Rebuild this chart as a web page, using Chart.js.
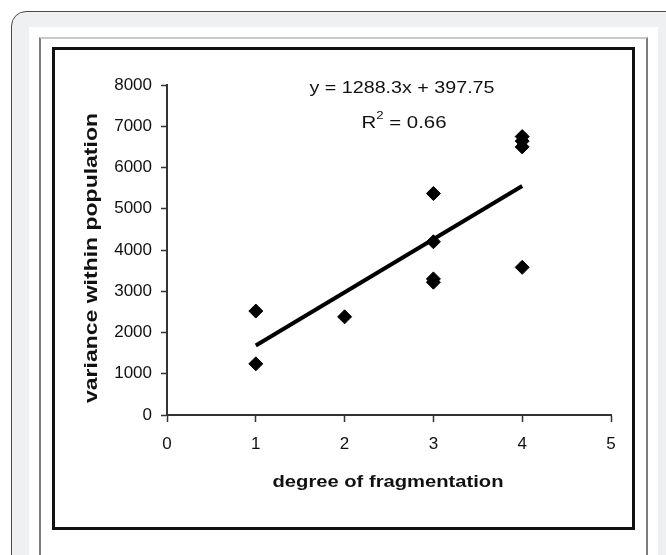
<!DOCTYPE html>
<html>
<head>
<meta charset="utf-8">
<script src="https://cdn.jsdelivr.net/npm/chart.js@4.4.1/dist/chart.umd.min.js"></script>
<style>
  html, body { margin: 0; padding: 0; background: #fff; }
  body { position: relative; width: 666px; height: 555px; overflow: hidden; }
  .outer { position: absolute; left: 11px; top: 11px; width: 720px; height: 620px; background: #eff0f2; border: 1px solid #4a4a4a; border-radius: 15px; }
  .panel { position: absolute; left: 29px; top: 27px; width: 629px; height: 600px; background: #fff; }
  .frame { position: absolute; left: 39px; top: 37px; width: 609px; height: 600px; box-sizing: border-box; border: 2px solid #7c7c7c; border-top-color: #c9c9c9; }
  .box { position: absolute; left: 52px; top: 47px; width: 583px; height: 483px; box-sizing: border-box; border: 3px solid #111; background: #fff; }
  canvas { position: absolute; left: 0; top: 0; filter: blur(0.35px); }
</style>
</head>
<body>
<div class="outer"></div>
<div class="panel"></div>
<div class="frame"></div>
<div class="box"><canvas id="chart" width="577" height="477"></canvas></div>

<script>
// degree of fragmentation vs variance within population
const fragmentation = [1, 1, 2, 3, 3, 3, 3, 4, 4, 4, 4];
const variance = [2520, 1240, 2380, 5370, 4200, 3300, 3220, 6750, 6640, 6500, 3580];

// trendline as printed on the chart
const trendSlope = 1288.3;
const trendIntercept = 397.75;
const trendFrom = 1;
const trendTo = 4;
const equationText = "y = 1288.3x + 397.75";
const r2Value = "0.66";

const xTitle = "degree of fragmentation";
const yTitle = "variance within population";
const xMin = 0, xMax = 5, xStep = 1;
const yMin = 0, yMax = 8000, yStep = 1000;

const points = fragmentation.map((x, i) => ({ x, y: variance[i] }));
const trend = [trendFrom, trendTo].map((x) => ({ x, y: trendSlope * x + trendIntercept }));

const ink = "#111";

// draws a text squeezed/stretched to a given length (the picture is scaled unevenly)
function drawFitted(ctx, text, cx, cy, font, length, angle) {
  ctx.save();
  ctx.font = font;
  const w = ctx.measureText(text).width;
  ctx.translate(cx, cy);
  if (angle) ctx.rotate(angle);
  ctx.scale(length / w, 1);
  ctx.textAlign = "center";
  ctx.textBaseline = "middle";
  ctx.fillStyle = ink;
  ctx.fillText(text, 0, 0);
  ctx.restore();
}

function drawR2(ctx, cx, cy, length) {
  const font = "17px 'Liberation Sans', Arial, sans-serif";
  const supFont = "11px 'Liberation Sans', Arial, sans-serif";
  const rest = " = " + r2Value;
  ctx.save();
  ctx.font = font;
  const wR = ctx.measureText("R").width;
  const wRest = ctx.measureText(rest).width;
  ctx.font = supFont;
  const wSup = ctx.measureText("2").width;
  const total = wR + wSup + wRest;
  ctx.translate(cx, cy);
  ctx.scale(length / total, 1);
  ctx.fillStyle = ink;
  ctx.textBaseline = "middle";
  ctx.textAlign = "left";
  let x = -total / 2;
  ctx.font = font;
  ctx.fillText("R", x, 0);
  x += wR;
  ctx.font = supFont;
  ctx.fillText("2", x, -7);
  x += wSup;
  ctx.font = font;
  ctx.fillText(rest, x, 0);
  ctx.restore();
}

const labels = {
  id: "labels",
  afterDraw(chart) {
    const ctx = chart.ctx;
    drawFitted(ctx, equationText, 347, 38, "17px 'Liberation Sans', Arial, sans-serif", 185);
    drawR2(ctx, 349, 73, 85);
    drawFitted(ctx, xTitle, 333, 432, "bold 17px 'Liberation Sans', Arial, sans-serif", 231);
    drawFitted(ctx, yTitle, 37, 208, "bold 19px 'Liberation Sans', Arial, sans-serif", 290, -Math.PI / 2);
  },
};

const tickFont = { family: "'Liberation Sans', Arial, sans-serif", size: 17 };

new Chart(document.getElementById("chart").getContext("2d"), {
  type: "scatter",
  data: {
    datasets: [
      {
        data: points,
        pointStyle: "rectRot",
        pointRadius: 7,
        backgroundColor: "#000",
        borderColor: "#000",
        borderWidth: 1,
      },
      {
        data: trend,
        showLine: true,
        borderColor: "#000",
        borderWidth: 4,
        pointRadius: 0,
      },
    ],
  },
  options: {
    responsive: false,
    animation: false,
    devicePixelRatio: 1,
    layout: { padding: { top: 35, right: 21, left: 0, bottom: 0 } },
    plugins: { legend: { display: false }, tooltip: { enabled: false } },
    scales: {
      x: {
        min: xMin,
        max: xMax,
        afterFit: (s) => { s.height = 112; },
        ticks: { stepSize: xStep, font: tickFont, color: ink, padding: 12, callback: (v) => String(v) },
        grid: { drawOnChartArea: false, tickLength: 7, tickColor: "#333", tickWidth: 1.5 },
        border: { color: "#333", width: 2 },
      },
      y: {
        min: yMin,
        max: yMax,
        afterFit: (s) => { s.width = 112; },
        ticks: { stepSize: yStep, font: tickFont, color: ink, padding: 9, callback: (v) => String(v) },
        grid: { drawOnChartArea: false, tickLength: 6, tickColor: "#333", tickWidth: 1.5 },
        border: { color: "#333", width: 2 },
      },
    },
  },
  plugins: [labels],
});
</script>
</body>
</html>
